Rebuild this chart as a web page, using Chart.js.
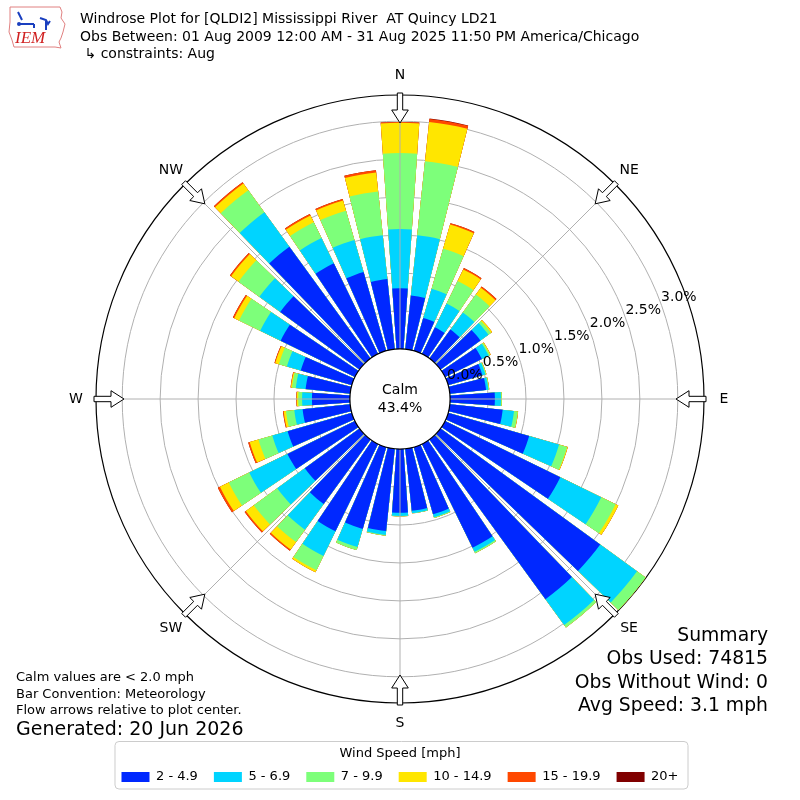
<!DOCTYPE html>
<html>
<head>
<meta charset="utf-8">
<script src="https://cdn.jsdelivr.net/npm/chart.js@4.4.1/dist/chart.umd.min.js"></script>
<style>
  body { margin: 0; background: #fff; }
  #wrap { position: relative; width: 800px; height: 800px; font-family: "DejaVu Sans", sans-serif; color: #000; }
  #wrap canvas { position: absolute; left: 0; top: 0; }
  .txt { position: absolute; white-space: pre; }
  #title { left: 80px; top: 10px; font-size: 14px; line-height: 17.5px; }
  #notes { left: 16px; top: 669px; font-size: 13px; line-height: 16.5px; }
  #generated { left: 16px; top: 717px; font-size: 19px; line-height: 23px; }
  #summary { right: 32px; top: 623px; font-size: 18.8px; line-height: 23.3px; text-align: right; }
  #logo { position: absolute; left: 6px; top: 4px; }
</style>
</head>
<body>
<div id="wrap">
  <canvas id="rose" width="800" height="800"></canvas>
  <svg id="logo" width="62" height="48" viewBox="0 0 62 48">
    <path d="M4 3 L54 3 L56 8 L55 14 L59 20 L57 28 L55 34 L53 38 L55 44 L49 43 L8 43 L6 36 L3 28 L4 18 Z" fill="none" stroke="#e08080" stroke-width="1"/>
    <path d="M12 8 L14 12 M14 12 L16 16 M13 20 L28 20 M28 20 L28 24 M34 14 L40 16 L42 20 L44 17 M40 16 L40 26" stroke="#1a3fbf" stroke-width="2" fill="none"/>
    <circle cx="13" cy="20" r="2" fill="#1a3fbf"/>
    <text x="9" y="39" font-family="Liberation Serif, serif" font-style="italic" font-size="17" fill="#d02020">IEM</text>
  </svg>
  <div class="txt" id="title">Windrose Plot for [QLDI2] Mississippi River  AT Quincy LD21
Obs Between: 01 Aug 2009 12:00 AM - 31 Aug 2025 11:50 PM America/Chicago
 ↳ constraints: Aug</div>
  <div class="txt" id="notes">Calm values are &lt; 2.0 mph
Bar Convention: Meteorology
Flow arrows relative to plot center.</div>
  <div class="txt" id="generated">Generated: 20 Jun 2026</div>
  <div class="txt" id="summary">Summary
Obs Used: 74815
Obs Without Wind: 0
Avg Speed: 3.1 mph</div>
</div>
<script>
// direction bins (degrees, meteorological, clockwise from N)
const dirDegrees = [0, 10, 20, 30, 40, 50, 60, 70, 80, 90, 100, 110, 120, 130, 140, 150, 160, 170,
  180, 190, 200, 210, 220, 230, 240, 250, 260, 270, 280, 290, 300, 310, 320, 330, 340, 350];

// frequency (%) per speed bin, one value per direction
const spd2_49 = [0.80, 0.71, 0.45, 0.39, 0.47, 0.65, 0.54, 0.47, 0.48, 0.59, 0.70, 1.11, 1.69, 2.60, 2.60, 1.52, 0.92, 0.82,
  0.84, 1.09, 1.12, 1.28, 1.05, 0.89, 0.99, 0.88, 0.63, 0.50, 0.59, 0.70, 1.09, 1.29, 1.82, 1.33, 1.08, 0.93];
const spd5_69 = [0.78, 0.80, 0.40, 0.35, 0.28, 0.13, 0.10, 0.04, 0.03, 0.08, 0.15, 0.41, 0.60, 0.60, 0.42, 0.06, 0.04, 0.03,
  0.04, 0.05, 0.25, 0.36, 0.42, 0.45, 0.56, 0.21, 0.11, 0.13, 0.13, 0.19, 0.30, 0.34, 0.56, 0.37, 0.44, 0.58];
const spd7_99 = [1.00, 0.98, 0.55, 0.33, 0.29, 0.04, 0.02, 0.01, 0.01, 0.01, 0.05, 0.11, 0.21, 0.14, 0.04, 0.02, 0.01, 0.005,
  0.005, 0.01, 0.04, 0.21, 0.20, 0.38, 0.30, 0.19, 0.11, 0.05, 0.05, 0.11, 0.31, 0.34, 0.36, 0.23, 0.40, 0.58];
const spd10_149 = [0.40, 0.52, 0.33, 0.17, 0.11, 0.02, 0.01, 0.005, 0.003, 0.002, 0.005, 0.01, 0.04, 0, 0, 0, 0, 0,
  0, 0, 0, 0.03, 0.12, 0.13, 0.13, 0.12, 0.03, 0.02, 0.015, 0.05, 0.07, 0.12, 0.11, 0.10, 0.14, 0.25];
const spd15_199 = [0.01, 0.04, 0.02, 0.02, 0.02, 0, 0, 0, 0, 0, 0, 0, 0, 0, 0, 0, 0, 0,
  0, 0, 0, 0, 0.02, 0.02, 0.03, 0.02, 0.01, 0.005, 0.005, 0.01, 0.02, 0.02, 0.02, 0.02, 0.02, 0.03];
const spd20p = [0, 0.005, 0, 0, 0, 0, 0, 0, 0, 0, 0, 0, 0, 0, 0, 0, 0, 0,
  0, 0, 0, 0, 0, 0, 0, 0, 0, 0, 0, 0, 0, 0, 0, 0, 0, 0];

const speedBins = ['2 - 4.9', '5 - 6.9', '7 - 9.9', '10 - 14.9', '15 - 19.9', '20+'];
const binColors = ['#0028ff', '#00d4ff', '#7dff7a', '#ffe600', '#ff4800', '#800000'];

const ringTicks = [0, 0.5, 1.0, 1.5, 2.0, 2.5, 3.0];
const ringLabels = ['0.0%', '0.5%', '1.0%', '1.5%', '2.0%', '2.5%', '3.0%'];
const compassLabels = ['N', 'NE', 'E', 'SE', 'S', 'SW', 'W', 'NW'];
const calmPct = 43.4;

const R_MIN = -0.66;   // puts 0% on the edge of the calm circle
const R_MAX = 3.345;
const BAR_DEG = 8;
const GAP_DEG = 2;
const LABEL_DEG = 20;  // ring labels sit 20 deg above east

Chart.defaults.font.family = '"DejaVu Sans", sans-serif';
Chart.defaults.color = '#000';

// every bin is drawn as a cumulative wedge, smaller ones on top
const bins = [spd2_49, spd5_69, spd7_99, spd10_149, spd15_199, spd20p];
const labels = [];
dirDegrees.forEach(d => { labels.push(d + '°', ''); });

const datasets = bins.map((arr, b) => {
  const data = [];
  dirDegrees.forEach((d, i) => {
    let cum = 0;
    for (let k = 0; k <= b; k++) cum += bins[k][i];
    data.push(cum, R_MIN);
  });
  return {
    label: speedBins[b],
    data: data,
    backgroundColor: c => (c.dataIndex % 2 ? 'rgba(0,0,0,0)' : binColors[b]),
    borderWidth: 0,
    angle: c => (c.dataIndex % 2 ? GAP_DEG : BAR_DEG)
  };
});

const roseOverlay = {
  id: 'roseOverlay',
  afterDraw(chart) {
    const r = chart.scales.r;
    const ctx = chart.ctx;
    const cx = r.xCenter, cy = r.yCenter;
    const rOut = r.getDistanceFromCenterForValue(R_MAX);
    const rIn = r.getDistanceFromCenterForValue(0);
    ctx.save();

    // spokes every 45 degrees
    ctx.strokeStyle = '#b0b0b0';
    ctx.lineWidth = 1;
    compassLabels.forEach((lab, i) => {
      const a = (i * 45 - 90) * Math.PI / 180;
      ctx.beginPath();
      ctx.moveTo(cx + rIn * Math.cos(a), cy + rIn * Math.sin(a));
      ctx.lineTo(cx + rOut * Math.cos(a), cy + rOut * Math.sin(a));
      ctx.stroke();
    });

    // calm circle
    ctx.beginPath();
    ctx.arc(cx, cy, rIn, 0, 2 * Math.PI);
    ctx.fillStyle = '#fff';
    ctx.fill();
    ctx.strokeStyle = '#000';
    ctx.lineWidth = 1.2;
    ctx.stroke();
    ctx.fillStyle = '#000';
    ctx.font = '14px "DejaVu Sans"';
    ctx.textAlign = 'center';
    ctx.textBaseline = 'middle';
    ctx.fillText('Calm', cx, cy - 9);
    ctx.fillText(calmPct.toFixed(1) + '%', cx, cy + 9);

    // ring labels
    ctx.textAlign = 'left';
    const la = -LABEL_DEG * Math.PI / 180;
    ringTicks.forEach((v, i) => {
      const d = r.getDistanceFromCenterForValue(v);
      ctx.fillText(ringLabels[i], cx + d * Math.cos(la), cy + d * Math.sin(la) - 6.5);
    });

    // inward flow arrows and compass labels
    ctx.textAlign = 'center';
    compassLabels.forEach((lab, i) => {
      const a = (i * 45 - 90) * Math.PI / 180;
      const ux = Math.cos(a), uy = Math.sin(a), px = -uy, py = ux;
      const pt = (rad, off) => [cx + rad * ux + off * px, cy + rad * uy + off * py];
      const pts = [pt(rOut + 2, -2.7), pt(rOut - 15, -2.7), pt(rOut - 15, -8.3), pt(rOut - 28, 0),
        pt(rOut - 15, 8.3), pt(rOut - 15, 2.7), pt(rOut + 2, 2.7)];
      ctx.beginPath();
      pts.forEach((p, k) => (k ? ctx.lineTo(p[0], p[1]) : ctx.moveTo(p[0], p[1])));
      ctx.closePath();
      ctx.fillStyle = '#fff';
      ctx.fill();
      ctx.strokeStyle = '#000';
      ctx.lineWidth = 1;
      ctx.stroke();
      ctx.fillStyle = '#000';
      ctx.fillText(lab, cx + (rOut + 20) * ux, cy + (rOut + 20) * uy);
    });

    // frame round the legend
    const lg = chart.legend;
    const hb = lg.legendHitBoxes;
    const last = hb[hb.length - 1];
    const bx = hb[0].left - 7, bw = last.left + last.width + 9 - bx;
    const by = lg.top + 38, bh = lg.bottom - 5 - by;
    ctx.strokeStyle = '#cccccc';
    ctx.lineWidth = 1;
    ctx.beginPath();
    ctx.roundRect(bx + 0.5, by + 0.5, bw, bh, 4);
    ctx.stroke();
    ctx.restore();
  }
};

new Chart(document.getElementById('rose').getContext('2d'), {
  type: 'polarArea',
  data: { labels: labels, datasets: datasets },
  options: {
    responsive: false,
    animation: false,
    events: [],
    layout: { padding: { top: 95, left: 96, right: 96, bottom: 6.5 } },
    scales: {
      r: {
        min: R_MIN,
        max: R_MAX,
        startAngle: -BAR_DEG / 2,
        z: 1,
        afterBuildTicks: s => { s.ticks = ringTicks.concat([R_MAX]).map(v => ({ value: v })); },
        ticks: { display: false },
        angleLines: { display: false },
        pointLabels: { display: false },
        grid: {
          circular: true,
          color: c => (c.tick && c.tick.value >= R_MAX - 1e-6 ? '#000' : '#b0b0b0'),
          lineWidth: c => (c.tick && c.tick.value >= R_MAX - 1e-6 ? 1.2 : 1)
        }
      }
    },
    plugins: {
      tooltip: { enabled: false },
      legend: {
        position: 'bottom',
        title: {
          display: true,
          text: 'Wind Speed [mph]',
          font: { size: 13, lineHeight: 0.5 },
          padding: { top: 44, bottom: 1 }
        },
        labels: {
          boxWidth: 28,
          boxHeight: 10,
          padding: 16,
          font: { size: 13 },
          generateLabels: chart => chart.data.datasets.map((ds, i) => ({
            text: ds.label,
            fillStyle: binColors[i],
            strokeStyle: binColors[i],
            lineWidth: 0,
            hidden: false,
            datasetIndex: i
          }))
        }
      }
    }
  },
  plugins: [roseOverlay]
});
</script>
</body>
</html>
